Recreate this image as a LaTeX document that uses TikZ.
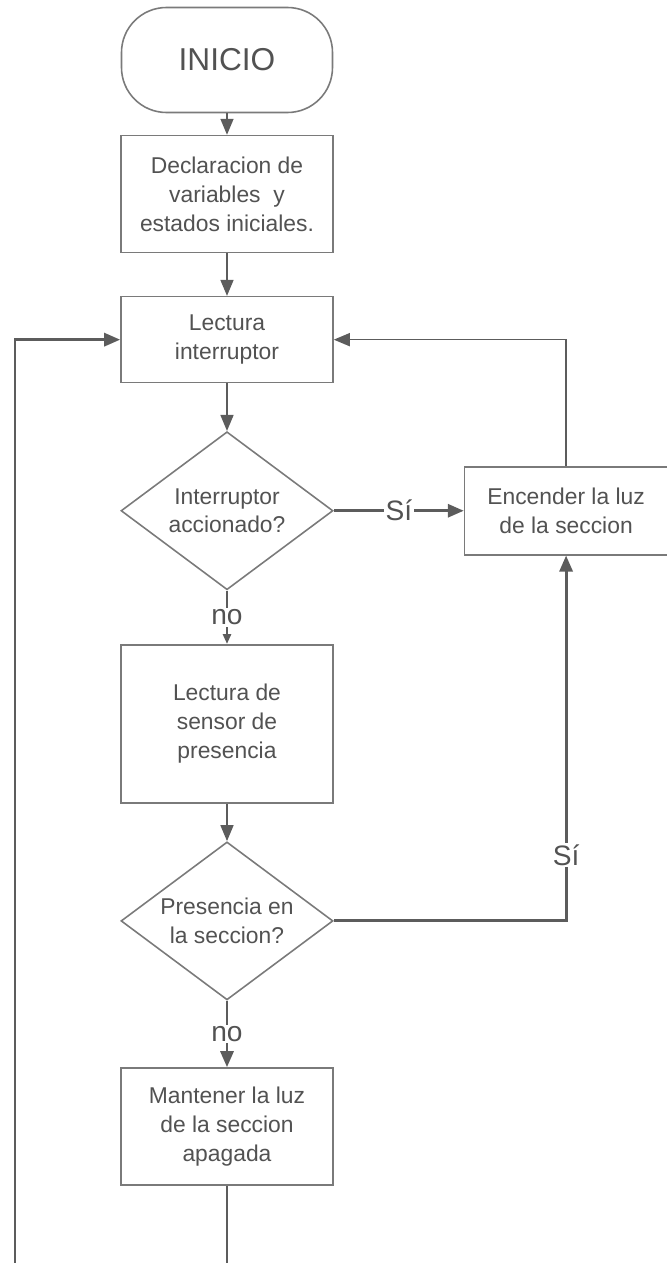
\documentclass[tikz,border=0pt]{standalone}
\usepackage{fontspec}
\setmainfont{Liberation Sans}
\usetikzlibrary{positioning,arrows.meta,shapes.geometric,calc}
\definecolor{CBORD}{HTML}{7A7A7A}
\definecolor{CARROW}{HTML}{5C5C5C}
\definecolor{CTXT}{HTML}{525252}

\begin{document}
\begin{tikzpicture}[
  font=\fontsize{13}{16.5}\selectfont,
  % process box
  proc/.style={draw=CBORD, line width=0.9pt, fill=white, align=center, text=CTXT,
               minimum width=4.24cm, inner sep=2pt},
  % start terminal
  term/.style={draw=CBORD, line width=0.9pt, rounded corners=0.9cm, align=center, text=CTXT,
               minimum width=4.22cm, minimum height=2.1cm, font=\fontsize{18}{20}\selectfont},
  % decision
  dec/.style={diamond, draw=CBORD, line width=0.9pt, aspect=1.34, align=center, text=CTXT,
              minimum width=4.24cm, minimum height=3.16cm, inner sep=0pt},
  % arrows
  ar/.style={-{Triangle[length=3.2mm, width=2.6mm]}, draw=CARROW, line width=1.7pt},
  arthin/.style={-{Triangle[length=3.2mm, width=2.6mm]}, draw=CARROW, line width=0.9pt},
  arsmall/.style={-{Triangle[length=2mm, width=1.6mm]}, draw=CARROW, line width=1.7pt},
  ln/.style={draw=CARROW, line width=1.7pt},
  % branch label
  lbl/.style={fill=white, text=CTXT, inner sep=1pt, font=\fontsize{16}{18}\selectfont},
]
\useasboundingbox (0,0) rectangle (13.34,-25.26);

% ---------- Main column ----------
\node[term] (INI) at (4.54,-1.2) {INICIO};
\node[proc, minimum height=2.34cm, below=0.43cm of INI] (DECL)
  {Declaracion de\\variables\ \ y\\estados iniciales.};
\node[proc, minimum height=1.72cm, below=0.85cm of DECL] (LEC) {Lectura\\interruptor};
\node[dec, below=0.95cm of LEC] (D1) {Interruptor\\accionado?};
\node[proc, minimum height=3.16cm, below=1.07cm of D1] (SEN) {Lectura de\\sensor de\\presencia};
\node[dec, below=0.75cm of SEN] (D2) {Presencia en\\la seccion?};
\node[proc, minimum height=2.34cm, below=1.33cm of D2] (OFF)
  {Mantener la luz\\de la seccion\\apagada};

% ---------- Side box ----------
\node[proc, minimum width=4.06cm, minimum height=1.76cm, right=2.6cm of D1] (ON)
  {Encender la luz\\de la seccion};

% ---------- Main flow ----------
\draw[arthin] (INI.south) -- (DECL.north);
\draw[arthin] (DECL.south) -- (LEC.north);
\draw[arthin] (LEC.south) -- (D1.north);
\draw[arsmall] (D1.south) -- node[lbl]{no} (SEN.north);
\draw[arthin] (SEN.south) -- (D2.north);
\draw[ar] (D2.south) -- node[lbl]{no} (OFF.north);

% ---------- Yes branches ----------
\draw[ar] (D1.east) -- node[lbl]{Sí} (ON.west);
\draw[ar] (D2.east) -| node[lbl, pos=0.59]{Sí} (ON.south);
\draw[arthin] (ON.north) |- (LEC.east);

% ---------- Loop back ----------
\coordinate (BL) at (0.3,-25.26);
\coordinate (BR) at (OFF.south |- BL);
\draw[ln] (OFF.south) -- (BR);
\draw[ar] (BL) |- (LEC.west);

\end{tikzpicture}
\end{document}
